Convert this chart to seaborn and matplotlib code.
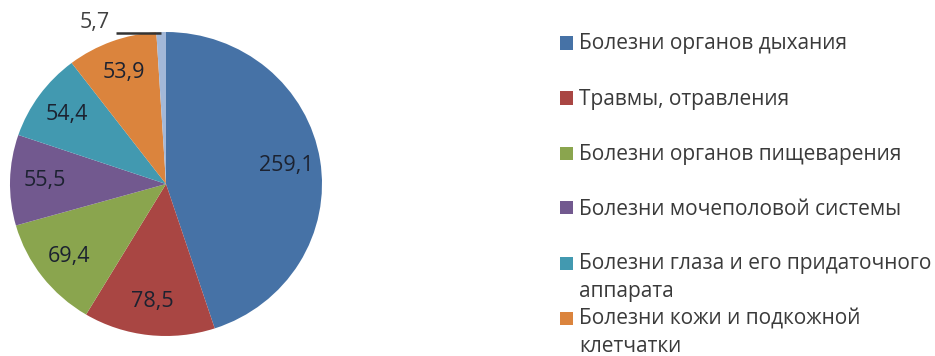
import matplotlib
matplotlib.use("Agg")
import matplotlib.pyplot as plt
import seaborn as sns
import numpy as np
from matplotlib.patches import Rectangle

categories = [
    "Болезни органов дыхания",
    "Травмы, отравления",
    "Болезни органов пищеварения",
    "Болезни мочеполовой системы",
    "Болезни глаза и его придаточного\nаппарата",
    "Болезни кожи и подкожной\nклетчатки",
    "Прочие",
]
values = [259.1, 78.5, 69.4, 55.5, 54.4, 53.9, 5.7]
colors = ["#4672A6", "#A94643", "#8AA54E", "#72598F", "#4299B0", "#DB843D", "#A3B8D8"]
legend_visible = 6

sns.set_theme(style="white")
plt.rcParams["font.family"] = ["Open Sans", "DejaVu Sans"]

W, H = 935, 356
fig = plt.figure(figsize=(W / 100, H / 100), dpi=100)
fig.patch.set_facecolor("white")

ax = fig.add_axes([10 / W, (H - 336) / H, 312 / W, 304 / H])
total = sum(values)


def fmt(v):
    return f"{v:.1f}".replace(".", ",")


wedges, _ = ax.pie(values, colors=colors, startangle=90, counterclock=False,
                   wedgeprops=dict(edgecolor="none"))
ax.set_aspect("auto")
ax.set_xlim(-1, 1)
ax.set_ylim(-1, 1)
ax.axis("off")

for w, v in zip(wedges, values):
    ang = np.deg2rad((w.theta1 + w.theta2) / 2)
    if v / total > 0.03:
        ax.text(0.78 * np.cos(ang), 0.78 * np.sin(ang), fmt(v), ha="center", va="center",
                fontsize=15.5, color="#1c2230")
    else:
        ex, ey = np.cos(ang), np.sin(ang)
        ax.plot([ex - 0.29, ex], [ey - 0.005, ey - 0.005], color="#333333", lw=1.8,
                clip_on=False, solid_capstyle="butt")
        ax.text(ex - 0.33, ey + 0.06, fmt(v), ha="right", va="center",
                fontsize=15.5, color="#404040", clip_on=False)

# legend (first entries visible, as in the reference)
x_sq, sq = 560, 13
x_txt = 579
y0, step, line_gap = 44, 55, 27
for i in range(legend_visible):
    yc = y0 + step * i
    fig.patches.append(Rectangle((x_sq / W, 1 - (yc - 1 + sq / 2) / H), sq / W, sq / H,
                                 transform=fig.transFigure, facecolor=colors[i],
                                 edgecolor="none"))
    for j, line in enumerate(categories[i].split("\n")):
        fig.text(x_txt / W, 1 - (yc + line_gap * j) / H, line, ha="left", va="center",
                 fontsize=15, color="#3a3a3a")

fig.savefig("out.png", dpi=100)
